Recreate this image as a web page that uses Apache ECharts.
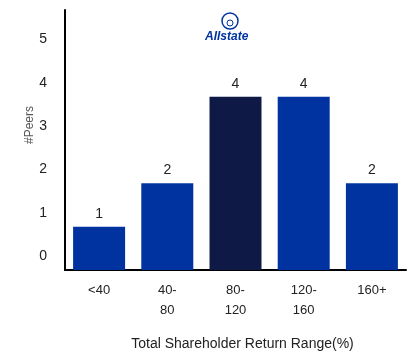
<!DOCTYPE html>
<html>
<head>
<meta charset="utf-8">
<script src="https://cdn.jsdelivr.net/npm/echarts@6/dist/echarts.min.js"></script>
<style>html,body{margin:0;padding:0;background:#fff}#c{width:408px;height:352px}</style>
</head>
<body>
<div id="c"></div>
<script>
var categories = ['<40', '40-\n80', '80-\n120', '120-\n160', '160+'];
var peers = [1, 2, 4, 4, 2];
var highlightIndex = 2;
var yTicks = [0, 1, 2, 3, 4, 5];

var BLUE = '#0033A0';
var NAVY = '#0E1A45';
var chart = echarts.init(document.getElementById('c'));
chart.setOption({
  animation: false,
  backgroundColor: '#fff',
  textStyle: { fontFamily: 'Liberation Sans, Arial, sans-serif' },
  grid: { left: 65, right: 2, top: 10, bottom: 82, outerBoundsMode: 'none', containLabel: false },
  xAxis: {
    type: 'category',
    data: categories,
    axisLine: { lineStyle: { color: '#000', width: 2 } },
    axisTick: { show: false },
    axisLabel: { color: '#222', fontSize: 13, lineHeight: 20, margin: 10 },
    name: 'Total Shareholder Return Range(%)',
    nameLocation: 'middle',
    nameGap: 67,
    nameTextStyle: { color: '#222', fontSize: 14, padding: [0, 0, 0, 14] }
  },
  yAxis: {
    type: 'value',
    min: 0, max: 6, interval: 1,
    axisLine: { show: true, lineStyle: { color: '#000', width: 2 } },
    axisTick: { show: false },
    splitLine: { show: false },
    axisLabel: {
      color: '#222', fontSize: 14, margin: 18,
      verticalAlign: 'bottom', lineHeight: 28,
      formatter: function (v) { return yTicks.indexOf(v) >= 0 ? String(v) : ''; }
    },
    name: '#Peers',
    nameLocation: 'middle',
    nameGap: 29,
    nameMoveOverlap: false,
    nameTextStyle: { color: '#555', fontSize: 12, padding: [0, 0, 0, 30] }
  },
  series: [{
    type: 'bar',
    barWidth: 52,
    data: peers.map(function (v, i) {
      return { value: v, itemStyle: { color: i === highlightIndex ? NAVY : BLUE } };
    }),
    label: { show: true, position: 'top', distance: 6, color: '#222', fontSize: 14 }
  }],
  graphic: [
    { type: 'circle', shape: { cx: 230, cy: 21, r: 8 }, style: { fill: 'none', stroke: BLUE, lineWidth: 1.5 } },
    { type: 'circle', shape: { cx: 230, cy: 23, r: 3 }, style: { fill: 'none', stroke: BLUE, lineWidth: 1 } },
    { type: 'text', left: 205, top: 31, style: { text: 'Allstate', fill: BLUE, font: 'italic bold 12px Liberation Sans, Arial, sans-serif' } }
  ]
});
</script>
</body>
</html>
